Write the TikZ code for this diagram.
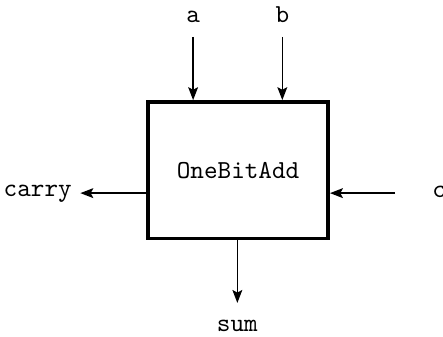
\documentclass[tikz,border=0pt]{standalone}
\usepackage{tikz}
\usetikzlibrary{arrows.meta,positioning}

\tikzset{
  port/.style={font=\ttfamily, inner sep=0pt},
  wire/.style={-{Stealth[length=5pt,width=3.8pt,inset=1pt]}, semithick},
  block/.style={draw, line width=1.5pt, minimum width=2.44cm, minimum height=1.85cm, font=\ttfamily},
}

\begin{document}
\begin{tikzpicture}
\useasboundingbox (0,0) rectangle (6.01,4.56);
% the adder block
\node[block] (add) at (3.23,2.25) {OneBitAdd};
% free ends of the wires
\coordinate (ain) at (2.62,4.06);
\coordinate (bin) at (3.83,4.06);
\coordinate (cin) at (5.36,1.94);
\coordinate (carryout) at (1.09,1.94);
\coordinate (sumout) at (3.22,0.45);
% port labels
\node[port, anchor=base] (a) at (2.62,4.26) {a};
\node[port, anchor=base] (b) at (3.83,4.26) {b};
\node[port, anchor=base west] (c) at (5.86,1.88) {c};
\node[port, anchor=base east] (carry) at (0.98,1.89) {carry};
\node[port, anchor=base] (sum) at (3.22,0.06) {sum};
% wires
\draw[wire] (ain) -- (ain |- add.north);
\draw[wire] (bin) -- (bin |- add.north);
\draw[wire] (cin) -- (cin -| add.east);
\draw[wire] (carryout -| add.west) -- (carryout);
\draw[wire] (sumout |- add.south) -- (sumout);
\end{tikzpicture}
\end{document}
